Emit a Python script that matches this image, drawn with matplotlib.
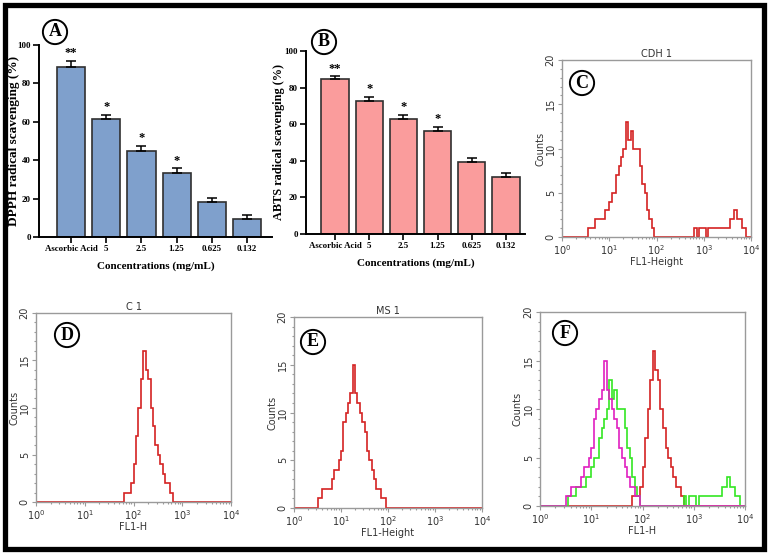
import numpy as np
import matplotlib
matplotlib.use("Agg")
import matplotlib.pyplot as plt
from matplotlib.patches import Rectangle
from matplotlib.ticker import MultipleLocator, LogLocator, NullFormatter

W, H = 771, 555

# --- antioxidant bar data ---
concentrations = ["Ascorbic Acid", "5", "2.5", "1.25", "0.625", "0.132"]
dpph_mean = [88.8, 61.4, 45.0, 33.4, 18.3, 9.3]
dpph_err = [3.0, 2.2, 2.5, 2.3, 1.8, 2.4]
dpph_sig = ["**", "*", "*", "*", "", ""]
abts_mean = [84.7, 72.6, 63.1, 56.3, 39.6, 31.0]
abts_err = [1.6, 2.3, 2.2, 2.3, 2.2, 2.6]
abts_sig = ["**", "*", "*", "*", "", ""]

# --- flow cytometry histograms (counts per 0.05 decade of FL1) ---
fl1_log_edges = np.arange(0, 4.0001, 0.05)
cdh1_counts = ([0]*11 + [1, 1, 1, 2, 2, 2, 2, 3, 3, 4, 5, 5, 7, 8, 9, 10, 13, 11, 12,
               10, 10, 10, 8, 6, 5, 3, 2, 1] + [0]*17 +
               [1, 0, 1, 1, 1, 0, 1, 1, 1, 1, 1, 1, 1, 1, 1, 2, 2, 3, 2, 2, 1, 1, 0, 0])
c1_counts = ([0]*36 + [1, 1, 1, 2, 4, 7, 10, 13, 16, 14, 13, 10, 8, 6, 5, 4, 3, 2, 2, 1]
             + [0]*24)
ms1_counts = ([0]*10 + [1, 1, 2, 2, 2, 2, 3, 4, 4, 5, 6, 9, 10, 11, 12, 15, 12, 11, 10, 9,
              8, 6, 5, 4, 3, 2, 2, 1, 1] + [0]*41)

fig = plt.figure(figsize=(W/100, H/100), dpi=100)


def px_axes(l, r, t, b):
    return fig.add_axes([l/W, 1-b/H, (r-l)/W, (b-t)/H])


def circle_label(x, y, s):
    fig.text(x/W, 1-y/H, s, ha="center", va="center", fontsize=13, fontweight="bold",
             family="Liberation Serif",
             bbox=dict(boxstyle="circle,pad=0.2", fc="white", ec="black", lw=1.4))


serif = "Liberation Serif"


def bar_panel(ax, means, errs, sig, color, ylabel, xlim, ysize, ylab_x):
    x = np.arange(len(means))
    ax.bar(x, means, width=0.8, color=color, edgecolor="#303030", linewidth=1.2, zorder=2)
    ax.errorbar(x, means, yerr=[np.zeros(len(errs)), errs], fmt="none", ecolor="black",
                elinewidth=1.1, capsize=3.5, capthick=1.1, zorder=3)
    for xi, m, e, s in zip(x, means, errs, sig):
        if s:
            ax.text(xi, m + e + 0.8, s, ha="center", va="bottom", fontsize=9,
                    fontweight="bold", family=serif)
    ax.set_ylim(0, 100)
    ax.set_xlim(*xlim)
    ax.set_yticks([0, 20, 40, 60, 80, 100])
    ax.set_xticks(x)
    ax.set_xticklabels(concentrations)
    for sp in ["top", "right"]:
        ax.spines[sp].set_visible(False)
    for sp in ["left", "bottom"]:
        ax.spines[sp].set_linewidth(1.4)
    ax.tick_params(length=4, width=1.2, pad=2)
    ax.tick_params(axis="x", labelsize=6.4)
    ax.tick_params(axis="y", labelsize=6.5)
    for lab in ax.get_xticklabels() + ax.get_yticklabels():
        lab.set_family(serif)
        lab.set_fontweight("bold")
    ax.set_ylabel(ylabel, fontsize=ysize, fontweight="bold", family=serif)
    ax.yaxis.set_label_coords(ylab_x, 0.5)
    ax.set_xlabel("Concentrations (mg/mL)", fontsize=8, fontweight="bold", family=serif,
                  labelpad=6)


axA = px_axes(39, 272, 45, 237)
bar_panel(axA, dpph_mean, dpph_err, dpph_sig, "#7fa0cc", "DPPH radical scavenging (%)",
          (-0.91, 5.71), 9.5, -0.082)
axB = px_axes(306, 525, 51, 234)
bar_panel(axB, abts_mean, abts_err, abts_sig, "#fa9c9c", "ABTS radical scavenging (%)",
          (-0.85, 5.56), 8.8, -0.096)

gray = "#9a9a9a"
red = "#d42222"
green = "#33e622"
magenta = "#e01fc0"


def hist_panel(ax, series, title, xlabel):
    edges = 10 ** fl1_log_edges
    for counts, col in series:
        ax.stairs(counts, edges, color=col, linewidth=1.2, baseline=None)
    ax.set_xscale("log")
    ax.set_xlim(1, 1e4)
    ax.set_ylim(0, 20)
    ax.set_yticks([0, 5, 10, 15, 20])
    ax.yaxis.set_minor_locator(MultipleLocator(1))
    ax.xaxis.set_major_locator(LogLocator(base=10))
    ax.xaxis.set_minor_locator(LogLocator(base=10, subs=np.arange(2, 10)))
    ax.xaxis.set_minor_formatter(NullFormatter())
    for sp in ax.spines.values():
        sp.set_color(gray)
        sp.set_linewidth(1.0)
    ax.tick_params(which="both", color=gray, labelcolor="#333333", labelsize=7, width=0.8)
    ax.tick_params(which="major", length=3, pad=1.5)
    ax.tick_params(which="minor", length=1.5)
    ax.tick_params(axis="y", labelrotation=90)
    for lab in ax.get_yticklabels():
        lab.set_va("center")
    ax.set_ylabel("Counts", fontsize=7, color="#333333")
    ax.yaxis.set_label_coords(-0.087, 0.5)
    ax.set_xlabel(xlabel, fontsize=7, color="#333333", labelpad=0)
    if title:
        ax.set_title(title, fontsize=7, color="#333333", pad=2)


axC = px_axes(562, 751, 60, 237)
hist_panel(axC, [(cdh1_counts, red)], "CDH 1", "FL1-Height")
axD = px_axes(36, 231, 313, 502)
hist_panel(axD, [(c1_counts, red)], "C 1", "FL1-H")
axE = px_axes(294, 482, 317, 508)
hist_panel(axE, [(ms1_counts, red)], "MS 1", "FL1-Height")
axF = px_axes(540, 745, 312, 506)
hist_panel(axF, [(c1_counts, red), (cdh1_counts, green), (ms1_counts, magenta)], None, "FL1-H")

circle_label(55, 32, "A")
circle_label(324, 42, "B")
circle_label(582, 83, "C")
circle_label(67, 335, "D")
circle_label(313, 342, "E")
circle_label(565, 333, "F")

# outer frame
fig.patches.append(Rectangle((4.5/W, 1-549/H), (764-4.5)/W, (549-4.5)/H,
                             transform=fig.transFigure, fill=False, ec="black", lw=3.8))

fig.savefig("out.png", dpi=100)
